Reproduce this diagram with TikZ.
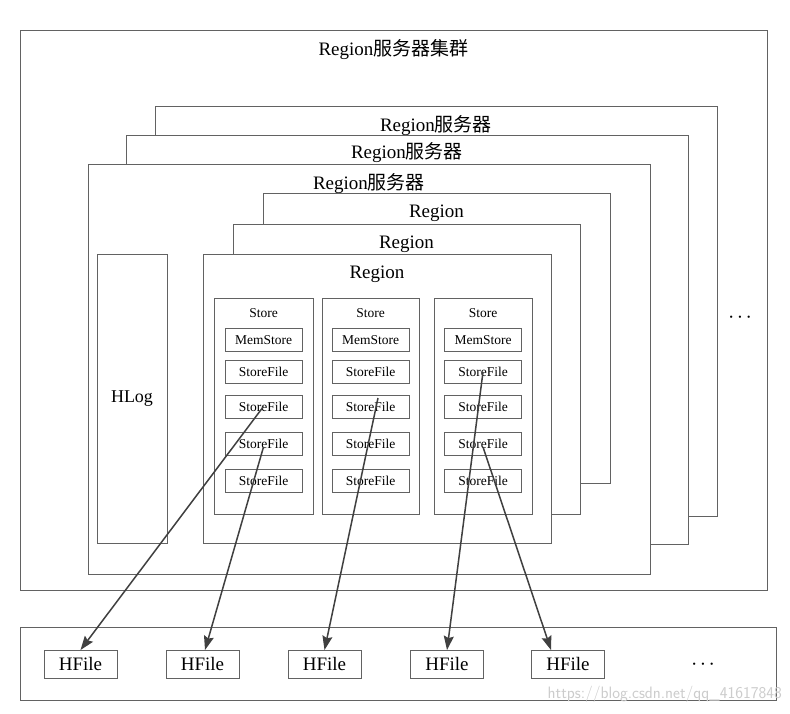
\documentclass[tikz,border=0pt]{standalone}
\usepackage{fontspec}
\setmainfont{Liberation Serif}
\newfontfamily\cjk{Noto Sans CJK SC}
\usetikzlibrary{arrows.meta,calc}
\definecolor{boxline}{HTML}{626262}
\definecolor{arrowcol}{HTML}{404040}
\newcommand{\mydots}{·\hspace{2.5pt}·\hspace{2.5pt}·}
\begin{document}
\begin{tikzpicture}[x=1pt,y=-1pt,
  box/.style={draw=boxline,line width=1pt,fill=white,inner sep=0pt,outer sep=0pt},
  big/.style={font=\fontsize{19}{21}\selectfont,inner sep=0pt},
  small/.style={font=\fontsize{13.5}{15}\selectfont,inner sep=0pt},
  sfbox/.style={box,minimum width=77pt,minimum height=23pt,font=\fontsize{13.5}{15}\selectfont},
  hfbox/.style={box,minimum width=73pt,minimum height=28pt,font=\fontsize{19}{21}\selectfont},
  conn/.style={draw=arrowcol,line width=1.5pt,-{Stealth[length=14pt,width=10pt,inset=2pt]}}
]
\useasboundingbox[fill=white] (0,0) rectangle (790,714);
% cluster
\node[box,minimum width=747pt,minimum height=559pt] (cluster) at (393.5,310.5) {};
\node[big] (clusterT) at ($(cluster.north)+(0,19)$) {Region{\cjk 服务器集群}};
\node[big] (dots1) at (740,320) {\mydots};
% servers
\node[box,minimum width=562pt,minimum height=409pt] (srv3) at (436,311.5) {};
\node[big] (srv3T) at ($(srv3.north)+(0,19)$) {Region{\cjk 服务器}};
\node[box,minimum width=562pt,minimum height=408pt] (srv2) at (407,340) {};
\node[big] (srv2T) at ($(srv2.north)+(0,17)$) {Region{\cjk 服务器}};
\node[box,minimum width=562pt,minimum height=409pt] (srv1) at (369,369.5) {};
\node[big] (srv1T) at ($(srv1.north)+(0,19)$) {Region{\cjk 服务器}};
% HLog
\node[box,minimum width=70pt,minimum height=288pt,font=\fontsize{18}{20}\selectfont] (hlog) at (132,399) {HLog};
% regions
\node[box,minimum width=347pt,minimum height=289pt] (reg3) at (436.5,338.5) {};
\node[big] (reg3T) at ($(reg3.north)+(0,19)$) {Region};
\node[box,minimum width=347pt,minimum height=289pt] (reg2) at (406.5,369.5) {};
\node[big] (reg2T) at ($(reg2.north)+(0,19)$) {Region};
\node[box,minimum width=348pt,minimum height=288pt] (reg1) at (377,399) {};
\node[big] (reg1T) at ($(reg1.north)+(0,19)$) {Region};
% stores
\foreach \i/\x/\w in {1/263.5/99,2/370.5/97,3/483/98}{
  \node[box,minimum width=\w pt,minimum height=216pt] (st\i) at (\x,406) {};
  \node[small] (st\i T) at ($(st\i.north)+(0,15)$) {Store};
  \node[sfbox] (s\i m) at (\x,340) {MemStore};
  \node[sfbox] (s\i f1) at (\x,372) {StoreFile};
  \node[sfbox] (s\i f2) at (\x,406.5) {StoreFile};
  \node[sfbox] (s\i f3) at (\x,444) {StoreFile};
  \node[sfbox] (s\i f4) at (\x,481) {StoreFile};
}
% bottom
\node[box,minimum width=756pt,minimum height=73pt] (hdfs) at (398,663.5) {};
\node[hfbox] (h1) at (80.5,664) {HFile};
\node[hfbox] (h2) at (202.5,664) {HFile};
\node[hfbox] (h3) at (324.5,664) {HFile};
\node[hfbox] (h4) at (447,664) {HFile};
\node[hfbox] (h5) at (568,664) {HFile};
\node[big] (dots2) at (703,667) {\mydots};
\node[font=\fontsize{16.5}{18}\sffamily,text=black!20,anchor=east,inner sep=0pt] (wm) at (782,694) {https://blog.csdn.net/qq\_41617848};
% arrows
\draw[conn] (s1f2.center) -- (h1.north);
\draw[conn] ($(s1f3.center)+(0,3)$) -- ($(h2.north)+(2.5,0)$);
\draw[conn] ($(s2f2.center)+(7.5,-8.5)$) -- (h3.north);
\draw[conn] (s3f1.center) -- (h4.north);
\draw[conn] ($(s3f3.center)+(0,3)$) -- ($(h5.north)+(-17,0)$);
\end{tikzpicture}
\end{document}
